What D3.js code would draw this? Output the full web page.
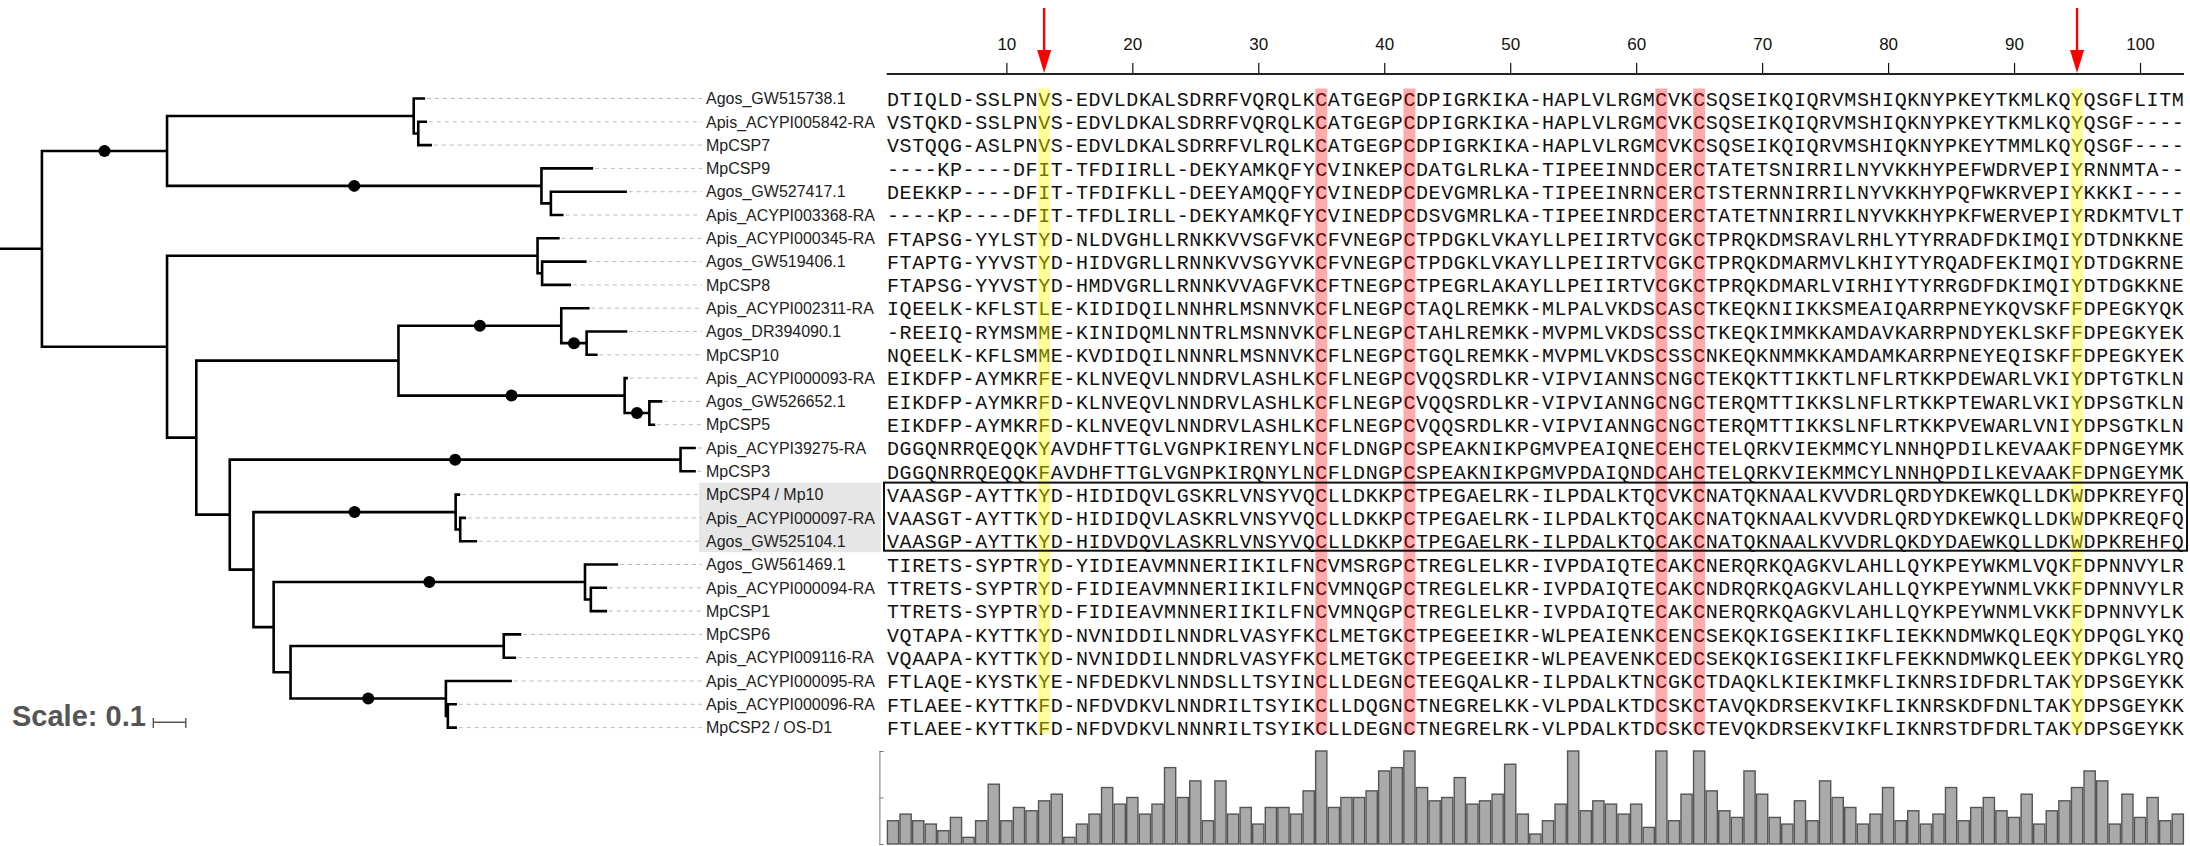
<!DOCTYPE html>
<html lang="en">
<head>
<meta charset="UTF-8">
<title>CSP tree and alignment</title>
<script src="https://cdn.jsdelivr.net/npm/d3@7"></script>
<style>
  body { margin: 0; background: #fff; }
  .leaf-label { font-family: "Liberation Sans", Arial, sans-serif; font-size: 16px; fill: #222; }
  .seq { font-family: "Courier New", "Liberation Mono", monospace; font-size: 20px; fill: #111; }
  .pos-axis text { font-family: "Liberation Sans Narrow", "Arial Narrow", "Liberation Sans", sans-serif; font-size: 17px; fill: #111; }
  .scale-label { font-family: "Liberation Sans", Arial, sans-serif; font-size: 29px; font-weight: bold; fill: #555; }
</style>
</head>
<body>
<svg id="chart" width="2190" height="846"></svg>
<script>
// tree (branch lengths, "*" marks supported nodes)
const newick = "(((Agos_GW515738.1:0.031,(Apis_ACYPI005842-RA:0.023,MpCSP7:0.038):0.014):0.759," +
  "(MpCSP9:0.155,(Agos_GW527417.1:0.230,Apis_ACYPI003368-RA:0.035):0.029)*:1.152)*:0.385," +
  "((Apis_ACYPI000345-RA:0.064,(Agos_GW519406.1:0.133,MpCSP8:0.085):0.014):1.140," +
  "(((Apis_ACYPI002311-RA:0.083,(Agos_DR394090.1:0.121,MpCSP10:0.030)*:0.078)*:0.501," +
  "(Apis_ACYPI000093-RA:0.006,(Agos_GW526652.1:0.036,MpCSP5:0.014)*:0.076)*:0.696):0.622," +
  "((Apis_ACYPI39275-RA:0.043,MpCSP3:0.043)*:1.387," +
  "((MpCSP4 / Mp10:0.010,(Apis_ACYPI000097-RA:0.014,Agos_GW525104.1:0.048):0.014)*:0.622," +
  "((Agos_GW561469.1:0.098,(Apis_ACYPI000094-RA:0.046,MpCSP1:0.046):0.018)*:0.958," +
  "((MpCSP6:0.050,Apis_ACYPI009116-RA:0.034):0.656," +
  "(Apis_ACYPI000095-RA:0.199,(Apis_ACYPI000096-RA:0.024,MpCSP2 / OS-D1:0.024):0.006)*:0.478):0.052):0.062):0.073):0.103):0.090):0.385):0.129;";

const names = [
  "Agos_GW515738.1", "Apis_ACYPI005842-RA", "MpCSP7", "MpCSP9", "Agos_GW527417.1",
  "Apis_ACYPI003368-RA", "Apis_ACYPI000345-RA", "Agos_GW519406.1", "MpCSP8",
  "Apis_ACYPI002311-RA", "Agos_DR394090.1", "MpCSP10", "Apis_ACYPI000093-RA",
  "Agos_GW526652.1", "MpCSP5", "Apis_ACYPI39275-RA", "MpCSP3", "MpCSP4 / Mp10",
  "Apis_ACYPI000097-RA", "Agos_GW525104.1", "Agos_GW561469.1", "Apis_ACYPI000094-RA",
  "MpCSP1", "MpCSP6", "Apis_ACYPI009116-RA", "Apis_ACYPI000095-RA", "Apis_ACYPI000096-RA",
  "MpCSP2 / OS-D1"
];

const sequences = [
  "DTIQLD-SSLPNVS-EDVLDKALSDRRFVQRQLKCATGEGPCDPIGRKIKA-HAPLVLRGMCVKCSQSEIKQIQRVMSHIQKNYPKEYTKMLKQYQSGFLITM",
  "VSTQKD-SSLPNVS-EDVLDKALSDRRFVQRQLKCATGEGPCDPIGRKIKA-HAPLVLRGMCVKCSQSEIKQIQRVMSHIQKNYPKEYTKMLKQYQSGF----",
  "VSTQQG-ASLPNVS-EDVLDKALSDRRFVLRQLKCATGEGPCDPIGRKIKA-HAPLVLRGMCVKCSQSEIKQIQRVMSHIQKNYPKEYTMMLKQYQSGF----",
  "----KP----DFIT-TFDIIRLL-DEKYAMKQFYCVINKEPCDATGLRLKA-TIPEEINNDCERCTATETSNIRRILNYVKKHYPEFWDRVEPIYRNNMTA--",
  "DEEKKP----DFIT-TFDIFKLL-DEEYAMQQFYCVINEDPCDEVGMRLKA-TIPEEINRNCERCTSTERNNIRRILNYVKKHYPQFWKRVEPIYKKKI----",
  "----KP----DFIT-TFDLIRLL-DEKYAMKQFYCVINEDPCDSVGMRLKA-TIPEEINRDCERCTATETNNIRRILNYVKKHYPKFWERVEPIYRDKMTVLT",
  "FTAPSG-YYLSTYD-NLDVGHLLRNKKVVSGFVKCFVNEGPCTPDGKLVKAYLLPEIIRTVCGKCTPRQKDMSRAVLRHLYTYRRADFDKIMQIYDTDNKKNE",
  "FTAPTG-YYVSTYD-HIDVGRLLRNNKVVSGYVKCFVNEGPCTPDGKLVKAYLLPEIIRTVCGKCTPRQKDMARMVLKHIYTYRQADFEKIMQIYDTDGKRNE",
  "FTAPSG-YYVSTYD-HMDVGRLLRNNKVVAGFVKCFTNEGPCTPEGRLAKAYLLPEIIRTVCGKCTPRQKDMARLVIRHIYTYRRGDFDKIMQIYDTDGKKNE",
  "IQEELK-KFLSTLE-KIDIDQILNNHRLMSNNVKCFLNEGPCTAQLREMKK-MLPALVKDSCASCTKEQKNIIKKSMEAIQARRPNEYKQVSKFFDPEGKYQK",
  "-REEIQ-RYMSMME-KINIDQMLNNTRLMSNNVKCFLNEGPCTAHLREMKK-MVPMLVKDSCSSCTKEQKIMMKKAMDAVKARRPNDYEKLSKFFDPEGKYEK",
  "NQEELK-KFLSMME-KVDIDQILNNNRLMSNNVKCFLNEGPCTGQLREMKK-MVPMLVKDSCSSCNKEQKNMMKKAMDAMKARRPNEYEQISKFFDPEGKYEK",
  "EIKDFP-AYMKRFE-KLNVEQVLNNDRVLASHLKCFLNEGPCVQQSRDLKR-VIPVIANNSCNGCTEKQKTTIKKTLNFLRTKKPDEWARLVKIYDPTGTKLN",
  "EIKDFP-AYMKRFD-KLNVEQVLNNDRVLASHLKCFLNEGPCVQQSRDLKR-VIPVIANNGCNGCTERQMTTIKKSLNFLRTKKPTEWARLVKIYDPSGTKLN",
  "EIKDFP-AYMKRFD-KLNVEQVLNNDRVLASHLKCFLNEGPCVQQSRDLKR-VIPVIANNGCNGCTERQMTTIKKSLNFLRTKKPVEWARLVNIYDPSGTKLN",
  "DGGQNRRQEQQKYAVDHFTTGLVGNPKIRENYLNCFLDNGPCSPEAKNIKPGMVPEAIQNECEHCTELQRKVIEKMMCYLNNHQPDILKEVAAKFDPNGEYMK",
  "DGGQNRRQEQQKFAVDHFTTGLVGNPKIRQNYLNCFLDNGPCSPEAKNIKPGMVPDAIQNDCAHCTELQRKVIEKMMCYLNNHQPDILKEVAAKFDPNGEYMK",
  "VAASGP-AYTTKYD-HIDIDQVLGSKRLVNSYVQCLLDKKPCTPEGAELRK-ILPDALKTQCVKCNATQKNAALKVVDRLQRDYDKEWKQLLDKWDPKREYFQ",
  "VAASGT-AYTTKYD-HIDIDQVLASKRLVNSYVQCLLDKKPCTPEGAELRK-ILPDALKTQCAKCNATQKNAALKVVDRLQRDYDKEWKQLLDKWDPKREQFQ",
  "VAASGP-AYTTKYD-HIDVDQVLASKRLVNSYVQCLLDKKPCTPEGAELRK-ILPDALKTQCAKCNATQKNAALKVVDRLQKDYDAEWKQLLDKWDPKREHFQ",
  "TIRETS-SYPTRYD-YIDIEAVMNNERIIKILFNCVMSRGPCTREGLELKR-IVPDAIQTECAKCNERQRKQAGKVLAHLLQYKPEYWKMLVQKFDPNNVYLR",
  "TTRETS-SYPTRYD-FIDIEAVMNNERIIKILFNCVMNQGPCTREGLELKR-IVPDAIQTECAKCNDRQRKQAGKVLAHLLQYKPEYWNMLVKKFDPNNVYLR",
  "TTRETS-SYPTRYD-FIDIEAVMNNERIIKILFNCVMNQGPCTREGLELKR-IVPDAIQTECAKCNERQRKQAGKVLAHLLQYKPEYWNMLVKKFDPNNVYLK",
  "VQTAPA-KYTTKYD-NVNIDDILNNDRLVASYFKCLMETGKCTPEGEEIKR-WLPEAIENKCENCSEKQKIGSEKIIKFLIEKKNDMWKQLEQKYDPQGLYKQ",
  "VQAAPA-KYTTKYD-NVNIDDILNNDRLVASYFKCLMETGKCTPEGEEIKR-WLPEAVENKCEDCSEKQKIGSEKIIKFLFEKKNDMWKQLEEKYDPKGLYRQ",
  "FTLAQE-KYSTKYE-NFDEDKVLNNDSLLTSYINCLLDEGNCTEEGQALKR-ILPDALKTNCGKCTDAQKLKIEKIMKFLIKNRSIDFDRLTAKYDPSGEYKK",
  "FTLAEE-KYTTKFD-NFDVDKVLNNDRILTSYIKCLLDQGNCTNEGRELKK-VLPDALKTDCSKCTAVQKDRSEKVIKFLIKNRSKDFDNLTAKYDPSGEYKK",
  "FTLAEE-KYTTKFD-NFDVDKVLNNNRILTSYIKCLLDEGNCTNEGRELRK-VLPDALKTDCSKCTEVQKDRSEKVIKFLIKNRSTDFDRLTAKYDPSGEYKK"
];

// conservation per column
const conservation = [
  7, 9, 7, 6, 4, 8, 2, 7, 18, 7, 11, 10, 13, 15, 2, 6, 9, 17, 12, 14,
  9, 12, 23, 14, 19, 7, 19, 9, 11, 6, 11, 11, 9, 16, 28, 11, 14, 14, 16, 22,
  23, 28, 17, 13, 14, 20, 12, 13, 15, 24, 9, 3, 7, 12, 28, 10, 13, 12, 9, 12,
  5, 28, 7, 15, 28, 16, 10, 8, 22, 15, 8, 6, 13, 7, 19, 14, 11, 6, 9, 17,
  7, 10, 6, 9, 17, 7, 11, 14, 10, 8, 15, 6, 10, 13, 17, 22, 19, 6, 15, 8,
  14, 7, 9
];

const cysteineCols = [35, 42, 62, 65];
const markedCols = [13, 95];
const arrowCols = [13, 95];
const tickCols = [10, 20, 30, 40, 50, 60, 70, 80, 90, 100];
const boxedRows = ["MpCSP4 / Mp10", "Apis_ACYPI000097-RA", "Agos_GW525104.1"];
const scaleBarValue = 0.1;

function parseNewick(s) {
  let i = 0;
  function node() {
    const n = {};
    if (s[i] === "(") {
      n.children = [];
      i++;
      n.children.push(node());
      while (s[i] === ",") { i++; n.children.push(node()); }
      i++;
    }
    let name = "";
    while (i < s.length && !":,);".includes(s[i])) name += s[i++];
    n.name = name;
    n.length = 0;
    if (s[i] === ":") {
      i++;
      let len = "";
      while (i < s.length && !",);".includes(s[i])) len += s[i++];
      n.length = +len;
    }
    return n;
  }
  return node();
}

const svg = d3.select("#chart");
const nCols = sequences[0].length;

const yRow = d3.scalePoint().domain(names).range([98.5, 727.6]);
const xTree = d3.scaleLinear().domain([0, 1]).range([0, 325]);
const colScale = d3.scaleBand().domain(d3.range(1, nCols + 1)).range([886.7, 2184.1]);
const bw = colScale.bandwidth();
const colMid = c => colScale(c) + bw / 2;

// ---- tree ----
const root = d3.hierarchy(parseNewick(newick));
root.each(d => { d.dist = (d.parent ? d.parent.dist : 0) + d.data.length; d.tx = xTree(d.dist); });
root.eachAfter(d => {
  if (d.children) d.ty = (d.children[0].ty + d.children[d.children.length - 1].ty) / 2;
  else d.ty = yRow(d.data.name);
});

const labelX = 706;
const gTree = svg.append("g");

// shaded labels of the boxed group
gTree.append("rect")
  .attr("x", 699).attr("width", 182)
  .attr("y", yRow(boxedRows[0]) - 12)
  .attr("height", yRow(boxedRows[2]) - yRow(boxedRows[0]) + 23)
  .attr("fill", "#e6e6e6");

gTree.selectAll("line.dash")
  .data(root.leaves())
  .join("line")
  .attr("x1", d => d.tx + 3).attr("x2", labelX - 4)
  .attr("y1", d => d.ty).attr("y2", d => d.ty)
  .attr("stroke", "#bbb").attr("stroke-width", 1).attr("stroke-dasharray", "4,4");

const branchPaths = [];
branchPaths.push(`M0,${root.ty}H${root.tx}`);
root.descendants().forEach(d => {
  if (d.parent) branchPaths.push(`M${d.parent.tx},${d.ty}H${d.tx}`);
  if (d.children) {
    const a = d.children[0], b = d.children[d.children.length - 1];
    branchPaths.push(`M${d.tx},${a.ty}V${b.ty}`);
  }
});
gTree.append("path")
  .attr("d", branchPaths.join(""))
  .attr("fill", "none").attr("stroke", "#000")
  .attr("stroke-width", 2.6).attr("stroke-linecap", "square");

gTree.selectAll("circle")
  .data(root.descendants().filter(d => d.data.name === "*"))
  .join("circle")
  .attr("cx", d => (d.parent.tx + d.tx) / 2)
  .attr("cy", d => d.ty)
  .attr("r", 6)
  .attr("fill", "#000");

gTree.selectAll("text.leaf-label")
  .data(root.leaves())
  .join("text")
  .attr("class", "leaf-label")
  .attr("x", labelX).attr("y", d => d.ty).attr("dy", "0.36em")
  .text(d => d.data.name);

// scale bar
const sb = svg.append("g");
sb.append("text").attr("class", "scale-label").attr("x", 12).attr("y", 726).text("Scale: " + scaleBarValue);
const sbx0 = 153.3, sbx1 = sbx0 + xTree(scaleBarValue);
sb.append("path")
  .attr("d", `M${sbx0},718V728M${sbx0},722.3H${sbx1}M${sbx1},718V728`)
  .attr("stroke", "#555").attr("stroke-width", 1.4).attr("fill", "none");

// ---- alignment ----
const gAln = svg.append("g");
const rows = gAln.selectAll("g.row")
  .data(names.map((n, i) => ({ name: n, seq: sequences[i] })))
  .join("g").attr("class", "row");

rows.selectAll("text")
  .data(d => d.seq.split("").map((ch, k) => ({ ch, col: k + 1, y: yRow(d.name) })))
  .join("text")
  .attr("class", "seq")
  .attr("x", d => colMid(d.col))
  .attr("y", d => d.y)
  .attr("dy", "0.36em")
  .attr("text-anchor", "middle")
  .text(d => d.ch);

const hlTop = yRow(names[0]) - 10;
const hlBottom = yRow(names[names.length - 1]) + 6;
gAln.selectAll("rect.cys")
  .data(cysteineCols)
  .join("rect")
  .attr("x", d => colMid(d) - 6).attr("width", 12)
  .attr("y", hlTop).attr("height", hlBottom - hlTop)
  .attr("fill", "#ff0000").attr("opacity", 0.33);

gAln.selectAll("rect.mark")
  .data(markedCols)
  .join("rect")
  .attr("x", d => colMid(d) - 6).attr("width", 12)
  .attr("y", hlTop).attr("height", hlBottom - hlTop)
  .attr("fill", "#ffff00").attr("opacity", 0.4);

gAln.append("rect")
  .attr("x", 884).attr("width", 2187 - 884)
  .attr("y", yRow(boxedRows[0]) - 12)
  .attr("height", yRow(boxedRows[2]) - yRow(boxedRows[0]) + 21.5)
  .attr("fill", "none").attr("stroke", "#111").attr("stroke-width", 2);

// ---- position axis ----
const xPos = d3.scaleLinear().domain([1, nCols]).range([colMid(1), colMid(nCols)]);
const axisY = 74;
const gAxis = svg.append("g")
  .attr("class", "pos-axis")
  .attr("transform", `translate(0,${axisY})`)
  .call(d3.axisTop(xPos).tickValues(tickCols).tickSize(11).tickPadding(13).tickFormat(d3.format("d")));
gAxis.select(".domain").remove();
gAxis.selectAll(".tick line").attr("stroke", "#111").attr("stroke-width", 1.2);
svg.append("line")
  .attr("x1", 886.7).attr("x2", 2184).attr("y1", axisY).attr("y2", axisY)
  .attr("stroke", "#222").attr("stroke-width", 2.2);

// red arrows
const gArrows = svg.append("g");
arrowCols.forEach(c => {
  const x = xPos(c);
  gArrows.append("line")
    .attr("x1", x).attr("x2", x).attr("y1", 8).attr("y2", 54)
    .attr("stroke", "#ff0000").attr("stroke-width", 2.4);
  gArrows.append("path")
    .attr("d", `M${x - 7},50L${x + 7},50L${x},73Z`)
    .attr("fill", "#ff0000");
});

// ---- conservation bars ----
const yBar = d3.scaleLinear().domain([0, 28]).range([844, 751]);
svg.append("g")
  .selectAll("rect")
  .data(conservation.map((v, k) => ({ v, col: k + 1 })))
  .join("rect")
  .attr("x", d => colScale(d.col) + 0.7)
  .attr("width", bw - 1.4)
  .attr("y", d => yBar(d.v))
  .attr("height", d => yBar(0) - yBar(d.v))
  .attr("fill", "#aaaaaa").attr("stroke", "#555").attr("stroke-width", 1.4);

const gBarAxis = svg.append("g")
  .attr("transform", "translate(879.4,0)")
  .call(d3.axisRight(yBar).tickValues([0, 14, 28]).tickSize(4).tickFormat(""));
gBarAxis.selectAll("path, line").attr("stroke", "#777");
</script>
</body>
</html>
